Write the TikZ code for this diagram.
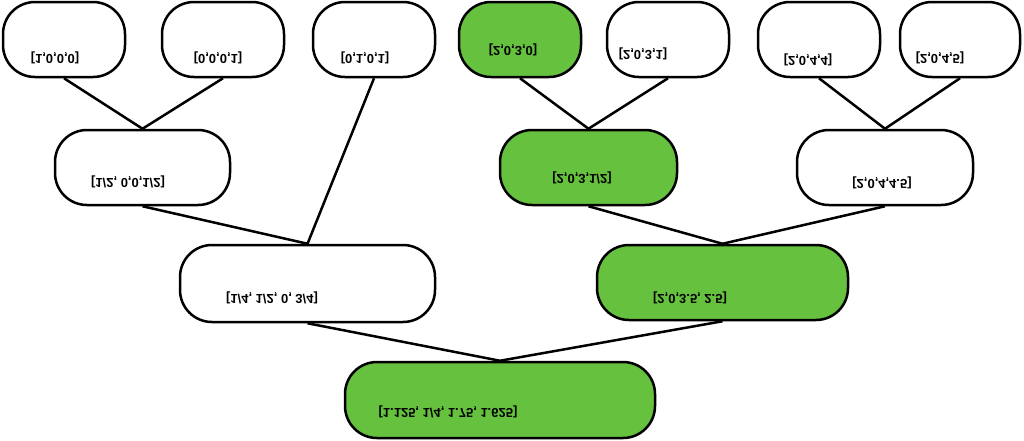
\documentclass[tikz,border=0pt]{standalone}
\usepackage{fontspec}
\setmainfont{Liberation Sans}
\usepackage{graphicx}
\definecolor{leafgreen}{RGB}{102,194,62}
\newcommand{\flipped}[1]{\scalebox{1}[-1]{#1}}
\tikzset{
  box/.style={draw, line width=2.5pt, rounded corners=32pt, inner sep=0pt},
  hit/.style={box, fill=leafgreen},
  val/.style={font=\fontsize{13}{15}\selectfont\bfseries, inner sep=0pt},
  edge/.style={line width=2.5pt}
}
\begin{document}
\begin{tikzpicture}[x=1pt, y=-1pt]
\useasboundingbox (0,0) rectangle (1024,440);

% TOP ROW
\node[box, minimum width=122pt, minimum height=75pt] (t1) at (64,39.5) {};
\node[box, minimum width=122pt, minimum height=75pt] (t2) at (223,39.5) {};
\node[box, minimum width=122pt, minimum height=75pt] (t3) at (374,39.5) {};
\node[hit, minimum width=122pt, minimum height=75pt] (t4) at (520,39.5) {};
\node[box, minimum width=122pt, minimum height=75pt] (t5) at (668,39.5) {};
\node[box, minimum width=122pt, minimum height=75pt] (t6) at (819,39.5) {};
\node[box, minimum width=120pt, minimum height=75pt] (t7) at (960,39.5) {};
\node[val] (l1) at (55,58) {\flipped{[1,0,0,0]}};
\node[val] (l2) at (218,58) {\flipped{[0,0,0,1]}};
\node[val] (l3) at (365,58) {\flipped{[0,1,0,1]}};
\node[val] (l4) at (513,50) {\flipped{[2,0,3,0]}};
\node[val] (l5) at (643,54) {\flipped{[2,0,3,1]}};
\node[val] (l6) at (808,60) {\flipped{[2,0,4,4]}};
\node[val] (l7) at (940,58) {\flipped{[2,0,4,5]}};

% MIDDLE ROW
\node[box, minimum width=175pt, minimum height=75pt] (m1) at (142.5,167.5) {};
\node[hit, minimum width=177pt, minimum height=75pt] (m2) at (588.5,167.5) {};
\node[box, minimum width=176pt, minimum height=75pt] (m3) at (885,167.5) {};
\node[val] (l8) at (128,182) {\flipped{[1/2, 0,0,1/2]}};
\node[val] (l9) at (582,178) {\flipped{[2,0,3,1/2]}};
\node[val] (l10) at (882,183) {\flipped{[2,0,4,4.5]}};

% THIRD ROW
\node[box, minimum width=255pt, minimum height=77pt] (b1) at (307.5,283.5) {};
\node[hit, minimum width=251pt, minimum height=75pt] (b2) at (722.5,282.5) {};
\node[val] (l11) at (272,298) {\flipped{[1/4, 1/2, 0, 3/4]}};
\node[val] (l12) at (690,298) {\flipped{[2,0,3.5, 2.5]}};

% ROOT
\node[hit, minimum width=310pt, minimum height=76pt] (root) at (500,400) {};
\node[val] (l13) at (448,412) {\flipped{[1.125, 1/4, 1.75, 1.625]}};

% EDGES
\draw[edge] (t1.south) -- (m1.north) -- (t2.south);
\draw[edge] (t4.south) -- (m2.north) -- (t5.south);
\draw[edge] (t6.south) -- (m3.north) -- (t7.south);
\draw[edge] (m1.south) -- (b1.north) -- (t3.south);
\draw[edge] (m2.south) -- (b2.north) -- (m3.south);
\draw[edge] (b1.south) -- (root.north) -- (b2.south);

\end{tikzpicture}
\end{document}
